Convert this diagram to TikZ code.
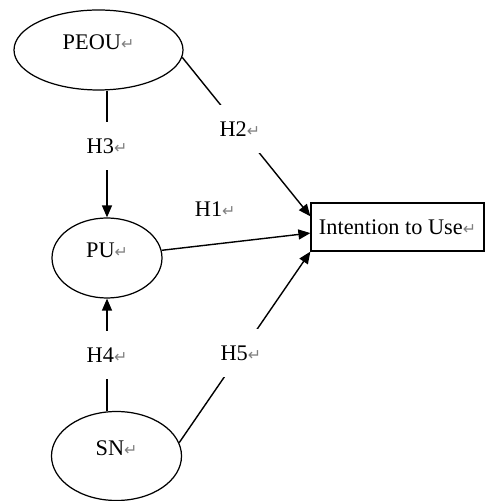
\documentclass[tikz,border=0pt]{standalone}
\usepackage{fontspec}
\setmainfont{Liberation Serif}
\newfontfamily\retfont{DejaVu Sans}
\usetikzlibrary{shapes.geometric,arrows.meta}
\newcommand{\retmark}{{\retfont\fontsize{9}{9}\selectfont\color{gray}↵}}
\begin{document}
\begin{tikzpicture}[font=\fontsize{12.7}{14}\selectfont,
        construct/.style={draw, ellipse, line width=0.7pt, inner sep=0pt, text depth=0.3cm},
        hyp/.style={fill=white, minimum height=0.96cm, inner xsep=1pt},
        link/.style={line width=0.8pt, -{Triangle[length=0.24cm,width=0.2cm]}}]
        \useasboundingbox (0,0) rectangle (9.72,10.02);
        \node[construct, minimum width=3.38cm, minimum height=1.6cm] (peou) at (1.97,9.02) {PEOU\retmark};
        \node[construct, minimum width=2.2cm, minimum height=1.6cm] (pu) at (2.14,4.86) {PU\retmark};
        \node[construct, minimum width=2.6cm, minimum height=1.78cm] (sn) at (2.33,0.9) {SN\retmark};
        \node[draw, line width=0.7pt, minimum width=3.46cm, minimum height=0.96cm] (itu) at (7.95,5.48) {Intention to Use\retmark};
        \draw[link] (peou.south -| pu) -- node[hyp, pos=0.44] {H3\retmark} (pu);
        \draw[link] (pu |- sn.north) -- node[hyp, pos=0.5] {H4\retmark} (pu);
        \draw[link] (peou.-5) -- node[hyp, pos=0.45] {H2\retmark} (itu.173);
        \draw[link] (pu.8) -- node[pos=0.36, yshift=0.7cm] {H1\retmark} (itu.184);
        \draw[link] (sn.12) -- node[hyp, pos=0.47] {H5\retmark} (itu.south west);
    \end{tikzpicture}
\end{document}
